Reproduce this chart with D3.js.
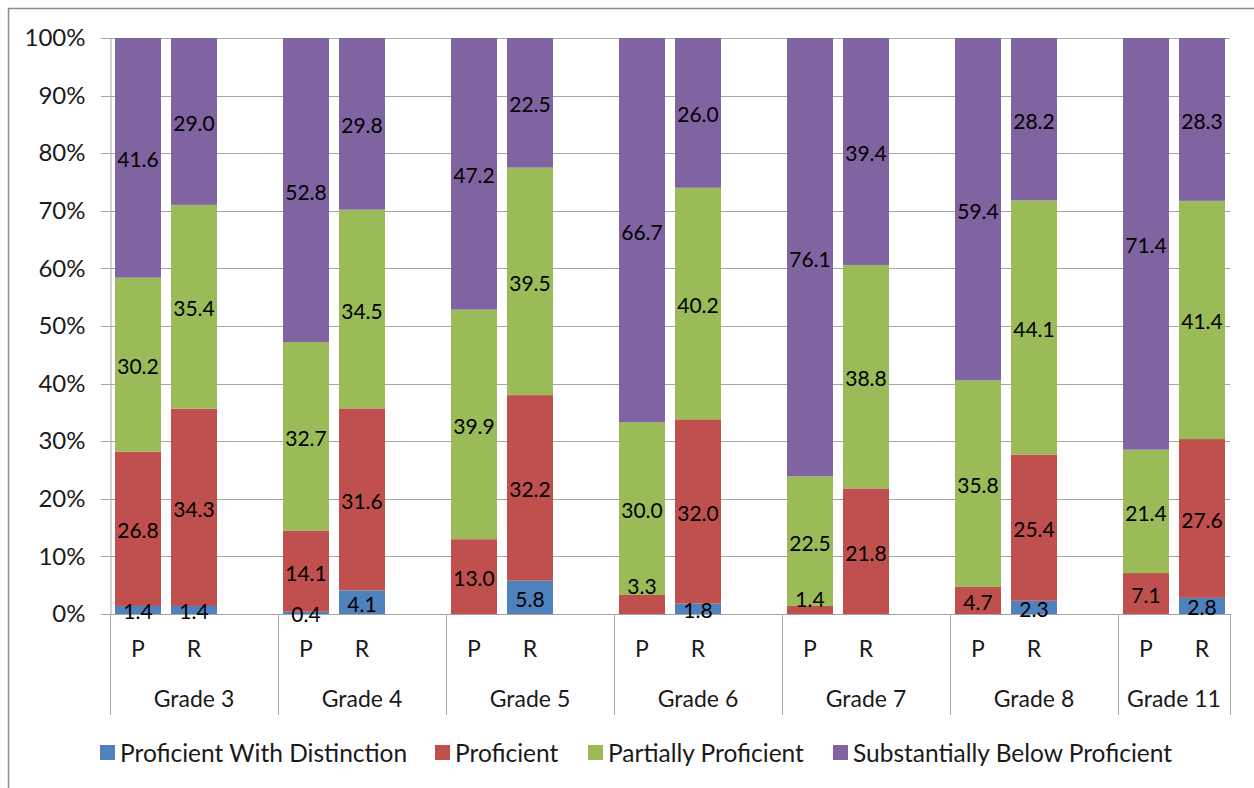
<!DOCTYPE html>
<html>
<head>
<meta charset="utf-8">
<script src="https://cdn.jsdelivr.net/npm/d3@7"></script>
<style>
  html, body { margin: 0; padding: 0; background: #fff; }
  svg { display: block; }
</style>
</head>
<body>
<svg id="chart" width="1254" height="788"></svg>
<script>
// ---------------- data ----------------
const grades = ["Grade 3", "Grade 4", "Grade 5", "Grade 6", "Grade 7", "Grade 8", "Grade 11"];
const tests = ["P", "R"];
const seriesNames = ["Proficient With Distinction", "Proficient", "Partially Proficient", "Substantially Below Proficient"];
const seriesColors = ["#4f81bd", "#c0504d", "#9bbb59", "#8064a2"];
// values per bar, order: G3 P, G3 R, G4 P, G4 R, ... G11 P, G11 R
const withDistinction = [1.4, 1.4, 0.4, 4.1, 0, 5.8, 0, 1.8, 0, 0, 0, 2.3, 0, 2.8];
const proficient      = [26.8, 34.3, 14.1, 31.6, 13.0, 32.2, 3.3, 32.0, 1.4, 21.8, 4.7, 25.4, 7.1, 27.6];
const partially       = [30.2, 35.4, 32.7, 34.5, 39.9, 39.5, 30.0, 40.2, 22.5, 38.8, 35.8, 44.1, 21.4, 41.4];
const belowProf       = [41.6, 29.0, 52.8, 29.8, 47.2, 22.5, 66.7, 26.0, 76.1, 39.4, 59.4, 28.2, 71.4, 28.3];
const yTickLabels = ["0%", "10%", "20%", "30%", "40%", "50%", "60%", "70%", "80%", "90%", "100%"];

// ---------------- layout ----------------
const svg = d3.select("#chart");
const plot = { left: 110, right: 1230, top: 38, bottom: 614 };
const FONT = "Lato, 'Open Sans', 'DejaVu Sans', sans-serif";
const gridColor = "#a6a6a6";

// outer frame
svg.append("rect")
  .attr("x", 8.5).attr("y", 8.5).attr("width", 1300).attr("height", 900)
  .attr("fill", "#fff").attr("stroke", "#8c8c8c").attr("stroke-width", 1.5);

// build rows
const rows = [];
grades.forEach((g, gi) => {
  tests.forEach((t, ti) => {
    const i = gi * 2 + ti;
    rows.push({
      key: g + "|" + t, grade: g, test: t,
      s0: withDistinction[i], s1: proficient[i], s2: partially[i], s3: belowProf[i]
    });
  });
});

// slots: each grade = P, R, (gap) except last
const slots = [];
grades.forEach((g, gi) => {
  tests.forEach(t => slots.push(g + "|" + t));
  if (gi < grades.length - 1) slots.push(g + "|gap");
});

const x = d3.scaleBand().domain(slots).range([plot.left, plot.right])
  .paddingInner(0.1786).paddingOuter(0.0893);
const y = d3.scaleLinear().domain([0, 1]).range([plot.bottom, plot.top]);

// gridlines
const tickVals = d3.range(0, 1.0001, 0.1);
svg.append("g").selectAll("line").data(tickVals).join("line")
  .attr("x1", plot.left - 9).attr("x2", plot.right)
  .attr("y1", d => Math.round(y(d)) + 0.5).attr("y2", d => Math.round(y(d)) + 0.5)
  .attr("stroke", gridColor).attr("stroke-width", 1);

// y axis
const yAxis = d3.axisLeft(y).tickValues(tickVals).tickSize(0).tickPadding(25)
  .tickFormat((d, i) => yTickLabels[i]);
const ya = svg.append("g").attr("transform", `translate(${plot.left + 0.5},0)`).call(yAxis);
ya.select(".domain").attr("stroke", gridColor);
ya.selectAll("text").attr("font-family", FONT).attr("font-size", 24).attr("fill", "#1a1a1a");

// stacked bars
const keys = ["s0", "s1", "s2", "s3"];
const stacked = d3.stack().keys(keys).offset(d3.stackOffsetExpand)(rows);

const barG = svg.append("g");
stacked.forEach((layer, li) => {
  barG.append("g").attr("fill", seriesColors[li])
    .selectAll("rect").data(layer).join("rect")
    .attr("x", d => x(d.data.key))
    .attr("width", x.bandwidth())
    .attr("y", d => y(d[1]))
    .attr("height", d => Math.max(0, y(d[0]) - y(d[1])));
});

// labels
const labelNudge = { "Grade 6|P|s1": -20, "Grade 7|P|s1": -12 };
const labG = svg.append("g");
stacked.forEach((layer, li) => {
  layer.forEach(d => {
    const v = d.data[keys[li]];
    if (!v) return;
    const nudge = labelNudge[d.data.key + "|" + keys[li]] || 0;
    labG.append("text")
      .attr("x", x(d.data.key) + x.bandwidth() / 2)
      .attr("y", (y(d[0]) + y(d[1])) / 2 + 1 + nudge)
      .attr("text-anchor", "middle").attr("dominant-baseline", "central")
      .attr("font-family", FONT).attr("font-size", 21).attr("fill", "#000")
      .text(v.toFixed(1));
  });
});

// category axis (multi-level)
const axisBottom = 715;
const catG = svg.append("g");
const bounds = grades.map(g => x(g + "|P") - x.step() * x.paddingOuter());
bounds.push(plot.right);
catG.selectAll("line").data(bounds).join("line")
  .attr("x1", d => Math.round(d) + 0.5).attr("x2", d => Math.round(d) + 0.5)
  .attr("y1", plot.bottom).attr("y2", axisBottom)
  .attr("stroke", gridColor);
rows.forEach(r => {
  catG.append("text")
    .attr("x", x(r.key) + x.bandwidth() / 2).attr("y", 648)
    .attr("text-anchor", "middle").attr("dominant-baseline", "central")
    .attr("font-family", FONT).attr("font-size", 23).attr("fill", "#1a1a1a")
    .text(r.test);
});
grades.forEach((g, gi) => {
  catG.append("text")
    .attr("x", (bounds[gi] + bounds[gi + 1]) / 2).attr("y", 698)
    .attr("text-anchor", "middle").attr("dominant-baseline", "central")
    .attr("font-family", FONT).attr("font-size", 23).attr("fill", "#1a1a1a")
    .text(g);
});

// legend
const legendX = [100, 435, 588, 833];
const legG = svg.append("g");
seriesNames.forEach((n, i) => {
  legG.append("rect").attr("x", legendX[i]).attr("y", 745).attr("width", 15).attr("height", 15)
    .attr("fill", seriesColors[i]);
  legG.append("text").attr("x", legendX[i] + 20).attr("y", 752)
    .attr("dominant-baseline", "central")
    .attr("font-family", FONT).attr("font-size", 24.5).attr("fill", "#1a1a1a")
    .text(n);
});
</script>
</body>
</html>
